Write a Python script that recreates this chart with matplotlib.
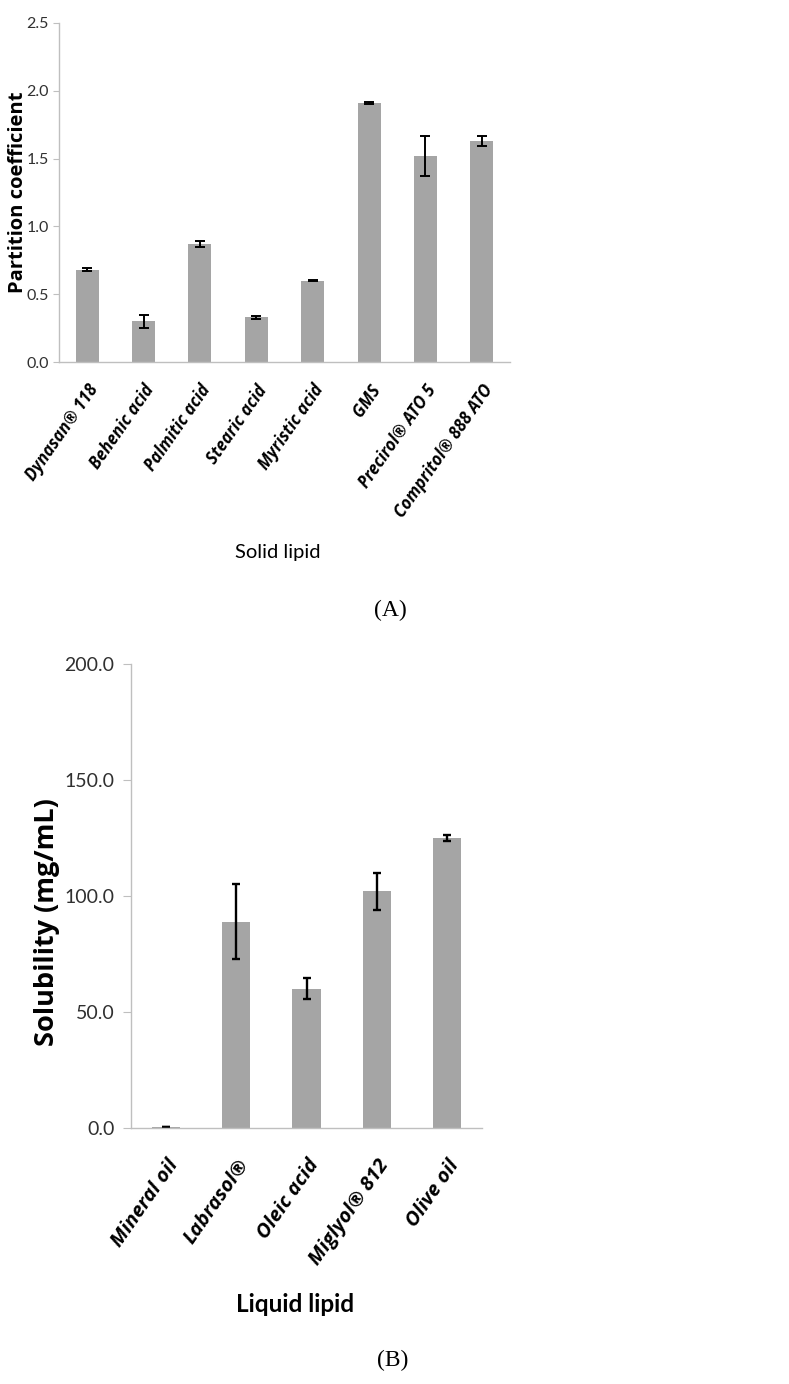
import numpy as np
import matplotlib
matplotlib.use("Agg")
import matplotlib.pyplot as plt

# panel A: partition coefficient of the drug in solid lipids
solid_names = ["Dynasan® 118", "Behenic acid", "Palmitic acid", "Stearic acid",
               "Myristic acid", "GMS", "Precirol® ATO 5", "Compritol® 888 ATO"]
solid_vals = [0.68, 0.30, 0.87, 0.33, 0.60, 1.91, 1.52, 1.63]
solid_err = [0.01, 0.05, 0.02, 0.01, 0.006, 0.004, 0.15, 0.04]

# panel B: solubility in liquid lipids
liquid_names = ["Mineral oil", "Labrasol®", "Oleic acid", "Miglyol® 812", "Olive oil"]
liquid_vals = [0.5, 89.0, 60.0, 102.0, 125.0]
liquid_err = [0.0, 16.0, 4.5, 8.0, 1.5]

narrow = ["Liberation Sans Narrow", "Lato", "DejaVu Sans"]
bold_font = ["Open Sans", "DejaVu Sans"]
bar_col = "#a5a5a5"
spine_col = "#bfbfbf"
tick_col = "#303030"

W, H = 789, 1384
fig = plt.figure(figsize=(W / 100, H / 100), dpi=100)


def style(ax):
    for s in ["top", "right"]:
        ax.spines[s].set_visible(False)
    for s in ["left", "bottom"]:
        ax.spines[s].set_color(spine_col)
        ax.spines[s].set_linewidth(1.0)
    ax.tick_params(axis="x", length=0)
    ax.tick_params(axis="y", length=4, color=spine_col, colors=tick_col)


# ---- panel A
axA = fig.add_axes([59 / W, 1 - 362 / H, 451 / W, 339 / H])
xa = np.arange(len(solid_names))
axA.bar(xa, solid_vals, width=0.41, color=bar_col, yerr=solid_err,
        error_kw=dict(ecolor="black", elinewidth=1.4, capsize=3.3, capthick=1.4))
axA.set_xlim(-0.5, len(solid_names) - 0.5)
axA.set_ylim(0, 2.5)
axA.set_yticks(np.arange(0, 2.51, 0.5))
axA.set_yticklabels(["%.1f" % v for v in np.arange(0, 2.51, 0.5)], family=narrow, fontsize=11.5)
axA.set_xticks(xa)
axA.set_xticklabels(solid_names, rotation=55, ha="right", va="top", rotation_mode="anchor",
                    family=bold_font, fontweight="bold", style="italic", fontsize=12)
axA.tick_params(axis="x", pad=14)
style(axA)
fig.text(18 / W, 1 - 192 / H, "Partition coefficient", rotation=90, ha="center", va="center",
         family=bold_font, fontweight="bold", fontsize=14.5)
fig.text(278 / W, 1 - 552 / H, "Solid lipid", ha="center", va="center", family=narrow, fontsize=14.5)
fig.text(390 / W, 1 - 610 / H, "(A)", ha="center", va="center", family="Liberation Serif", fontsize=17)

# ---- panel B
axB = fig.add_axes([131 / W, 1 - 1128 / H, 351 / W, 464 / H])
xb = np.arange(len(liquid_names))
axB.bar(xb, liquid_vals, width=0.4, color=bar_col, yerr=liquid_err,
        error_kw=dict(ecolor="black", elinewidth=1.7, capsize=3.2, capthick=1.7))
axB.set_xlim(-0.5, len(liquid_names) - 0.5)
axB.set_ylim(0, 200)
axB.set_yticks(np.arange(0, 201, 50))
axB.set_yticklabels(["%.1f" % v for v in np.arange(0, 201, 50)], family=narrow, fontsize=14)
axB.set_xticks(xb)
axB.set_xticklabels(liquid_names, rotation=55, ha="right", va="top", rotation_mode="anchor",
                    family=bold_font, fontweight="bold", style="italic", fontsize=14.5)
style(axB)
axB.tick_params(axis="x", pad=20)
axB.tick_params(axis="y", length=6, pad=6)
fig.text(47 / W, 1 - 922 / H, "Solubility (mg/mL)", rotation=90, ha="center", va="center",
         family=bold_font, fontweight="bold", fontsize=19.5)
fig.text(295 / W, 1 - 1305 / H, "Liquid lipid", ha="center", va="center", family=narrow,
         fontweight="bold", fontsize=17.5)
fig.text(393 / W, 1 - 1360 / H, "(B)", ha="center", va="center", family="Liberation Serif", fontsize=17)

fig.savefig("out.png", dpi=100)
